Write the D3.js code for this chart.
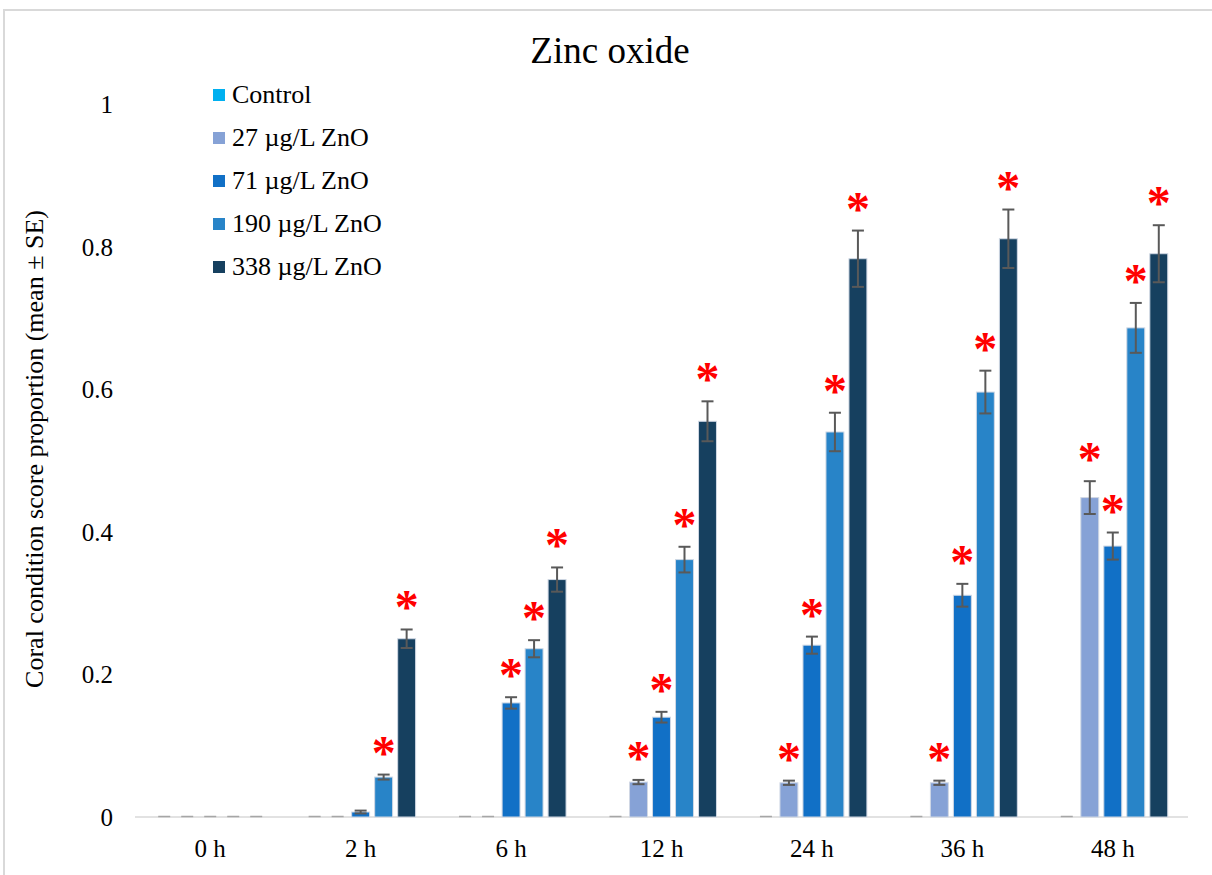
<!DOCTYPE html>
<html>
<head>
<meta charset="utf-8">
<script src="https://cdn.jsdelivr.net/npm/d3@7"></script>
<style>
  html, body { margin: 0; padding: 0; background: #fff; overflow: hidden; }
  svg { display: block; }
  text { font-family: "Liberation Serif", "Times New Roman", serif; fill: #000; }
</style>
</head>
<body>
<svg id="chart" width="1212" height="875"></svg>
<script>
// Sampling times and treatment groups
const times = ["0 h", "2 h", "6 h", "12 h", "24 h", "36 h", "48 h"];
const seriesNames = ["Control", "27 µg/L ZnO", "71 µg/L ZnO", "190 µg/L ZnO", "338 µg/L ZnO"];
const seriesColors = ["#00b0f0", "#86a2d6", "#1170c6", "#2884c8", "#16405f"];

// Mean coral condition score proportion per group
const control = [0, 0, 0, 0, 0, 0, 0];
const zno27   = [0, 0, 0, 0.049, 0.048, 0.048, 0.448];
const zno71   = [0, 0.007, 0.160, 0.140, 0.241, 0.311, 0.380];
const zno190  = [0, 0.056, 0.236, 0.361, 0.540, 0.596, 0.686];
const zno338  = [0, 0.250, 0.333, 0.555, 0.783, 0.811, 0.790];

// Standard errors
const seControl = [0, 0, 0, 0, 0, 0, 0];
const se27  = [0, 0, 0, 0.003, 0.003, 0.003, 0.023];
const se71  = [0, 0.002, 0.008, 0.0075, 0.012, 0.016, 0.019];
const se190 = [0, 0.0035, 0.012, 0.018, 0.027, 0.030, 0.035];
const se338 = [0, 0.013, 0.017, 0.028, 0.0395, 0.041, 0.040];

// Significant difference from control (1 = marked with *)
const sigControl = [0, 0, 0, 0, 0, 0, 0];
const sig27  = [0, 0, 0, 1, 1, 1, 1];
const sig71  = [0, 0, 1, 1, 1, 1, 1];
const sig190 = [0, 1, 1, 1, 1, 1, 1];
const sig338 = [0, 1, 1, 1, 1, 1, 1];

const yTicks = [0, 0.2, 0.4, 0.6, 0.8, 1];

const means = [control, zno27, zno71, zno190, zno338];
const ses = [seControl, se27, se71, se190, se338];
const sigs = [sigControl, sig27, sig71, sig190, sig338];

const rows = [];
times.forEach((t, ti) => {
  seriesNames.forEach((s, si) => {
    rows.push({ time: t, series: s, si, value: means[si][ti], se: ses[si][ti], sig: sigs[si][ti] });
  });
});

const svg = d3.select("#chart");

// Chart frame (top and left edges fall inside the canvas)
svg.append("path")
  .attr("d", "M4,875 L4,10 L1212,10")
  .attr("fill", "none").attr("stroke", "#d9d9d9").attr("stroke-width", 2);

const plot = { left: 135, right: 1188, top: 104, bottom: 817 };

const x0 = d3.scaleBand().domain(times).range([plot.left, plot.right]).padding(0);
const groupW = 115;
const x1 = d3.scaleBand().domain(seriesNames)
  .range([(x0.bandwidth() - groupW) / 2, (x0.bandwidth() + groupW) / 2])
  .paddingInner(0.22).paddingOuter(0.11);
const y = d3.scaleLinear().domain([0, 1]).range([plot.bottom, plot.top]);
const color = d3.scaleOrdinal().domain(seriesNames).range(seriesColors);

// Title
svg.append("text")
  .attr("x", 610).attr("y", 63)
  .attr("text-anchor", "middle")
  .style("font-size", "37px")
  .text("Zinc oxide");

// Y axis labels (no line, no ticks)
const yAxis = svg.append("g")
  .attr("transform", `translate(${plot.left - 22},0)`)
  .call(d3.axisLeft(y).tickValues(yTicks).tickSize(0).tickPadding(0).tickFormat(d3.format("~g")));
yAxis.select(".domain").remove();
yAxis.selectAll("text")
  .attr("dy", "0.34em")
  .style("font-size", "25px")
  .style("font-family", '"Liberation Serif", "Times New Roman", serif');

// Y axis title
svg.append("text")
  .attr("transform", "translate(43,449) rotate(-90)")
  .attr("text-anchor", "middle")
  .style("font-size", "26px")
  .text("Coral condition score proportion (mean ± SE)");

// X axis baseline
svg.append("line")
  .attr("x1", plot.left).attr("x2", plot.right)
  .attr("y1", plot.bottom).attr("y2", plot.bottom)
  .attr("stroke", "#d9d9d9").attr("stroke-width", 1.5);

// X axis labels
const xAxis = svg.append("g")
  .attr("transform", `translate(0,${plot.bottom})`)
  .call(d3.axisBottom(x0).tickSize(0).tickPadding(0));
xAxis.select(".domain").remove();
xAxis.selectAll("text")
  .attr("y", 40).attr("dy", 0)
  .style("font-size", "25px")
  .style("font-family", '"Liberation Serif", "Times New Roman", serif');

// Bars
const groups = svg.append("g").selectAll("g")
  .data(times).join("g")
  .attr("transform", d => `translate(${x0(d)},0)`);

const cells = groups.selectAll("g.cell")
  .data(t => rows.filter(r => r.time === t))
  .join("g").attr("class", "cell");

const cx = d => x1(d.series) + x1.bandwidth() / 2;

cells.filter(d => d.value > 0).append("rect")
  .attr("x", d => x1(d.series))
  .attr("width", x1.bandwidth())
  .attr("y", d => y(d.value))
  .attr("height", d => y(0) - y(d.value))
  .attr("fill", d => color(d.series))
  .attr("stroke", "#d0d8e4")
  .attr("stroke-width", 1);

// Zero-valued bars show only their outline on the baseline
cells.filter(d => d.value === 0).append("line")
  .attr("x1", d => cx(d) - 6).attr("x2", d => cx(d) + 6)
  .attr("y1", y(0) - 0.5).attr("y2", y(0) - 0.5)
  .attr("stroke", "#a6a6a6").attr("stroke-width", 1.5);

// Error bars
const err = cells.filter(d => d.se > 0).append("g")
  .attr("stroke", "#595959").attr("stroke-width", 2);
err.append("line")
  .attr("x1", cx).attr("x2", cx)
  .attr("y1", d => y(d.value + d.se)).attr("y2", d => y(d.value - d.se));
err.append("line")
  .attr("x1", d => cx(d) - 6).attr("x2", d => cx(d) + 6)
  .attr("y1", d => y(d.value + d.se)).attr("y2", d => y(d.value + d.se));
err.append("line")
  .attr("x1", d => cx(d) - 6).attr("x2", d => cx(d) + 6)
  .attr("y1", d => y(d.value - d.se)).attr("y2", d => y(d.value - d.se));

// Significance asterisks
cells.filter(d => d.sig).append("text")
  .attr("x", cx)
  .attr("y", d => y(d.value + d.se) - 27 + 21)
  .attr("text-anchor", "middle")
  .style("font-size", "48px")
  .style("font-weight", "bold")
  .style("fill", "#ff0000")
  .text("*");

// Legend
const legend = svg.append("g").selectAll("g")
  .data(seriesNames).join("g")
  .attr("transform", (d, i) => `translate(213,${103 + i * 43})`);
legend.append("rect")
  .attr("x", 0).attr("y", -14).attr("width", 12).attr("height", 12)
  .attr("fill", d => color(d));
legend.append("text")
  .attr("x", 19).attr("y", 0)
  .style("font-size", "26px")
  .text(d => d);
</script>
</body>
</html>
